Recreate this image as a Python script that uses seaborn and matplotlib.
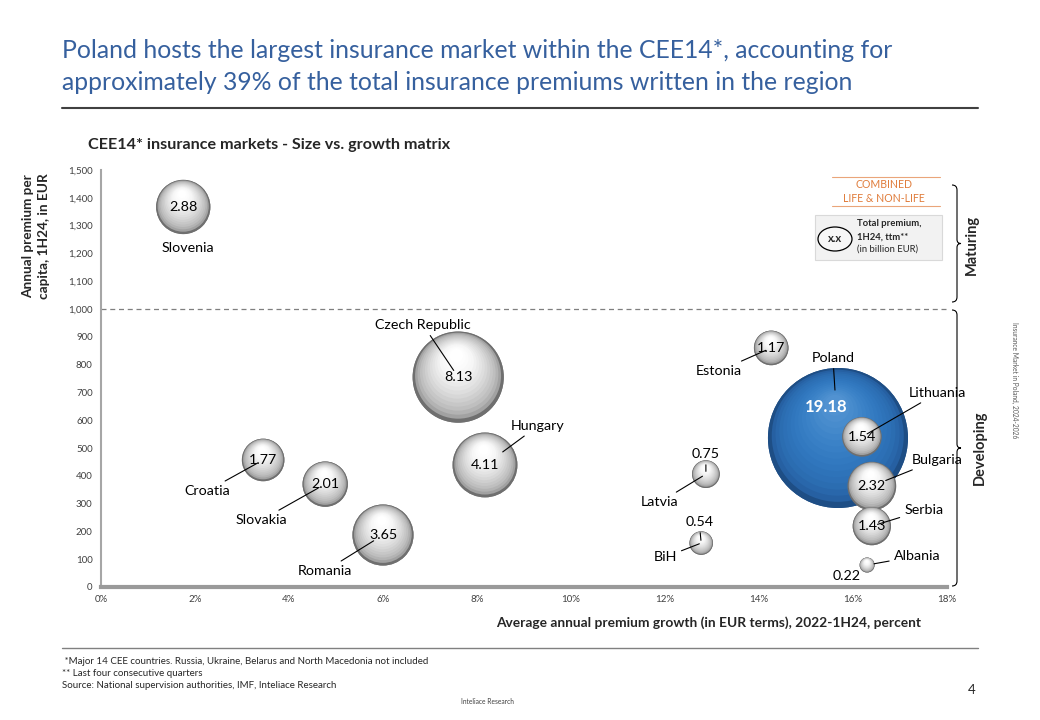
import numpy as np
import pandas as pd
import matplotlib
matplotlib.use("Agg")
import matplotlib.pyplot as plt
import seaborn as sns
from matplotlib.transforms import ScaledTranslation
from matplotlib.patches import Rectangle, Ellipse, PathPatch
from matplotlib.path import Path
from matplotlib.lines import Line2D
from matplotlib.colors import LinearSegmentedColormap

# ---------------- data ----------------
countries = ["Poland", "Slovenia", "Czech Republic", "Hungary", "Croatia", "Slovakia",
             "Romania", "Estonia", "Lithuania", "Bulgaria", "Serbia", "Albania",
             "Latvia", "BiH"]
growth_pct = [15.68, 1.75, 7.60, 8.17, 3.45, 4.77, 6.00, 14.26, 16.19, 16.40, 16.40,
              16.30, 12.87, 12.77]
premium_per_capita = [536, 1367, 755, 439, 457, 370, 187, 860, 540, 363, 219, 79, 406, 158]
total_premium_bn = [19.18, 2.88, 8.13, 4.11, 1.77, 2.01, 3.65, 1.17, 1.54, 2.32, 1.43,
                    0.22, 0.75, 0.54]
x_ticks = [0, 2, 4, 6, 8, 10, 12, 14, 16, 18]
y_ticks = list(range(0, 1600, 100))

df = pd.DataFrame({"country": countries, "growth": growth_pct,
                   "premium": premium_per_capita, "total": total_premium_bn})
df["group"] = np.where(df["country"] == "Poland", "Poland", "Other")

# label placement: pixel offsets of name from bubble centre (up = +), leader gap (px)
name_off = {"Slovenia": (5, -41, None), "Czech Republic": (-35, 52, 8),
            "Hungary": (53, 39, 22), "Croatia": (-56, -31, 7),
            "Slovakia": (-64, -36, 8), "Romania": (-58, -36, 11),
            "Estonia": (-52, -23, 6), "Poland": (-5, 80, 48),
            "Lithuania": (76, 44, 6), "Bulgaria": (65, 26, 15),
            "Serbia": (52, 16, 6), "Albania": (50, 9, 7),
            "Latvia": (-46, -28, 4), "BiH": (-36, -14, 2)}
val_off = {"Latvia": (0, 20, True), "BiH": (-2, 21, True), "Albania": (-20, -11, False),
           "Poland": (-12, 31, False)}

# ---------------- figure ----------------
W, H = 1040, 720
fig = plt.figure(figsize=(W / 100, H / 100), dpi=100)
sns.set_style("white")
plt.rcParams["font.family"] = ["Lato", "DejaVu Sans"]

def FX(px):
    return px / W

def FY(py):
    return 1 - py / H

ax = fig.add_axes([FX(101), FY(587), FX(947) - FX(101), FY(170) - FY(587)])

SMAX = (140 * 0.72) ** 2
sns.scatterplot(data=df, x="growth", y="premium", size="total", sizes=(0, SMAX),
                size_norm=(0, max(total_premium_bn)), hue="group",
                palette={"Poland": "#1f4f88", "Other": "#7a7a7a"},
                edgecolor="none", linewidth=0, legend=False, ax=ax, zorder=2)
sizes = ax.collections[0].get_sizes()

gray_cm = LinearSegmentedColormap.from_list("g", ["#6f6f6f", "#9d9d9d", "#b9b9b9",
                                                  "#cdcdcd", "#e2e2e2", "#f6f6f6",
                                                  "#ffffff"])
blue_cm = LinearSegmentedColormap.from_list("b", ["#1e4e85", "#2660a3", "#2c6eb3",
                                                  "#3077be", "#3c83c8", "#5192d1"])
NL = 16
for i, row in df.iterrows():
    s = sizes[i]
    r_pt = np.sqrt(s) / 2
    cm = blue_cm if row["group"] == "Poland" else gray_cm
    for k in range(NL):
        t = k / (NL - 1)
        f = 1 - 0.85 * t
        dy = r_pt * (1 - f) * 0.55 / 72
        dx = -r_pt * (1 - f) * 0.05 / 72
        tr = ax.transData + ScaledTranslation(dx, dy, fig.dpi_scale_trans)
        ax.scatter([row["growth"]], [row["premium"]], s=s * f * f, color=cm(t ** 0.6),
                   edgecolors="none", transform=tr, zorder=3 + i * 0.05 + k * 0.001)

# labels
for i, row in df.iterrows():
    name = row["country"]
    dx, dy, gap = name_off[name]
    ap = None
    if gap is not None:
        ap = dict(arrowstyle="-", color="black", lw=0.8, shrinkA=1, shrinkB=gap * 0.72)
    ax.annotate(name, xy=(row["growth"], row["premium"]), xytext=(dx * 0.72, dy * 0.72),
                textcoords="offset points", ha="center", va="center", fontsize=10.3,
                color="black", arrowprops=ap, zorder=20)
for i, row in df.iterrows():
    name = row["country"]
    vx, vy, vline = val_off.get(name, (0, 0, False))
    if name == "Poland":
        kw = dict(color="white", fontsize=12, fontweight="bold")
    else:
        kw = dict(color="black", fontsize=10.3)
    ap = dict(arrowstyle="-", color="black", lw=0.8, shrinkA=1, shrinkB=2) if vline else None
    ax.annotate(f"{row['total']:.2f}", xy=(row["growth"], row["premium"]),
                xytext=(vx * 0.72, vy * 0.72), textcoords="offset points",
                ha="center", va="center", zorder=30, arrowprops=ap, **kw)

ax.axhline(1000, color="#7f7f7f", lw=0.9, ls=(0, (4, 3)), zorder=1)

ax.set_xlim(0, 18)
ax.set_ylim(0, 1500)
ax.set_xticks(x_ticks)
ax.set_xticklabels([f"{v}%" for v in x_ticks])
ax.set_yticks(y_ticks)
ax.set_yticklabels([f"{v:,}" for v in y_ticks])
ax.tick_params(axis="both", labelsize=7, colors="#404040", length=3, width=0.8,
               direction="out", pad=3)
ax.tick_params(axis="both", color="#8c8c8c")
ax.set_xlabel("")
ax.set_ylabel("")
for side in ["top", "right"]:
    ax.spines[side].set_visible(False)
ax.spines["left"].set_color("#a6a6a6")
ax.spines["left"].set_linewidth(1.5)
ax.spines["bottom"].set_color("#9a9a9a")
ax.spines["bottom"].set_linewidth(3)

# axis titles
fig.text(FX(36), FY(236), "Annual premium per\ncapita, 1H24, in EUR", rotation=90,
         ha="center", va="center", fontsize=9.8, fontweight="bold", linespacing=1.3)
fig.text(FX(709), FY(623), "Average annual premium growth (in EUR terms), 2022-1H24, percent",
         ha="center", va="center", fontsize=9.9, fontweight="bold")

# title & subtitle
fig.text(FX(62), FY(50), "Poland hosts the largest insurance market within the CEE14*, accounting for",
         ha="left", va="center", fontsize=17.8, color="#36609e")
fig.text(FX(62), FY(82), "approximately 39% of the total insurance premiums written in the region",
         ha="left", va="center", fontsize=17.8, color="#36609e")
fig.add_artist(Line2D([FX(62), FX(978)], [FY(108), FY(108)], color="#404040", lw=1.5))
fig.text(FX(88), FY(145), "CEE14* insurance markets - Size vs. growth matrix",
         ha="left", va="center", fontsize=11.6, fontweight="bold")

# braces
def brace(x0, y0, y1, w=5, p=4):
    ym = (y0 + y1) / 2
    verts = [(x0, y0), (x0 + w, y0), (x0 + w, y0 + 5),
             (x0 + w, ym - 4), (x0 + w, ym), (x0 + w + p, ym),
             (x0 + w, ym), (x0 + w, ym + 4),
             (x0 + w, y1 - 5), (x0 + w, y1), (x0, y1)]
    codes = [Path.MOVETO, Path.CURVE3, Path.CURVE3,
             Path.LINETO, Path.CURVE3, Path.CURVE3,
             Path.CURVE3, Path.CURVE3,
             Path.LINETO, Path.CURVE3, Path.CURVE3]
    v = [(FX(a), FY(b)) for a, b in verts]
    fig.add_artist(PathPatch(Path(v, codes), transform=fig.transFigure, fill=False,
                             ec="black", lw=0.8))

brace(952, 185, 302)
brace(952, 310, 586)
fig.text(FX(972), FY(245), "Maturing", rotation=90, ha="center", va="center",
         fontsize=10.5, fontweight="bold")
fig.text(FX(980), FY(448), "Developing", rotation=90, ha="center", va="center",
         fontsize=10.5, fontweight="bold")

# legend box
orange = "#e07b39"
fig.add_artist(Line2D([FX(832), FX(940)], [FY(177), FY(177)], color="#eaa57a", lw=0.8))
fig.add_artist(Line2D([FX(832), FX(940)], [FY(206), FY(206)], color="#eaa57a", lw=0.8))
fig.text(FX(884), FY(184), "COMBINED", ha="center", va="center", fontsize=7.6, color=orange)
fig.text(FX(884), FY(198), "LIFE & NON-LIFE", ha="center", va="center", fontsize=7.6, color=orange)
fig.add_artist(Rectangle((FX(815), FY(260)), FX(942) - FX(815), FY(215) - FY(260),
                         transform=fig.transFigure, fc="#f2f2f2", ec="#d9d9d9", lw=0.8))
fig.add_artist(Ellipse((FX(835), FY(239)), FX(34), 24 / H, transform=fig.transFigure,
                       fc="#f7f7f7", ec="black", lw=0.9))
fig.text(FX(835), FY(239), "x.x", ha="center", va="center", fontsize=8, fontweight="bold")
fig.text(FX(857), FY(224), "Total premium,", ha="left", va="center", fontsize=6.8, fontweight="bold")
fig.text(FX(857), FY(237), "1H24, ttm**", ha="left", va="center", fontsize=6.8, fontweight="bold")
fig.text(FX(857), FY(249), "(in billion EUR)", ha="left", va="center", fontsize=6.8)

# footer
fig.add_artist(Line2D([FX(62), FX(978)], [FY(648), FY(648)], color="#808080", lw=1))
fig.text(FX(62), FY(661), " *Major 14 CEE countries. Russia, Ukraine, Belarus and North Macedonia not included",
         ha="left", va="center", fontsize=7)
fig.text(FX(62), FY(674), "** Last four consecutive quarters", ha="left", va="center", fontsize=7)
fig.text(FX(62), FY(686), "Source: National supervision authorities, IMF, Inteliace Research",
         ha="left", va="center", fontsize=7)
fig.text(FX(487), FY(702), "Inteliace Research", ha="center", va="center", fontsize=4.8,
         color="#404040")
fig.text(FX(972), FY(690), "4", ha="center", va="center", fontsize=9.5)
fig.text(FX(1015), FY(380), "Insurance Market in Poland, 2024-2026", rotation=-90,
         ha="center", va="center", fontsize=4.8, color="#595959")

fig.savefig("out.png", dpi=100)
